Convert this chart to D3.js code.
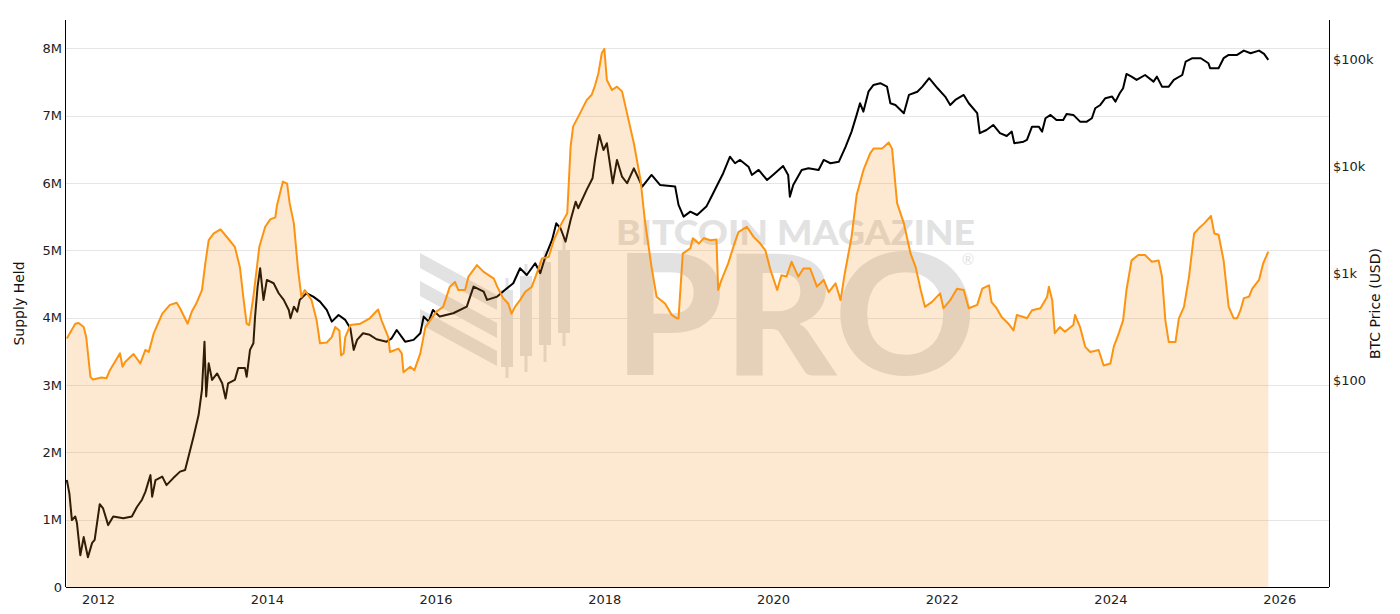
<!DOCTYPE html>
<html>
<head>
<meta charset="utf-8">
<script src="https://cdn.jsdelivr.net/npm/d3@7"></script>
<style>
  html, body { margin: 0; padding: 0; background: #fff; }
  svg { display: block; }
</style>
</head>
<body>
<svg id="chart" width="1400" height="614"></svg>
<script>
// ---- Data (dates as decimal years) ----
const supplyDates = [2011.63,2011.73,2011.77,2011.83,2011.86,2011.91,2011.94,2012.04,2012.10,2012.14,2012.26,2012.29,2012.32,2012.42,2012.50,2012.56,2012.60,2012.66,2012.76,2012.85,2012.93,2012.97,2013.06,2013.11,2013.17,2013.23,2013.27,2013.31,2013.37,2013.45,2013.53,2013.62,2013.68,2013.72,2013.76,2013.79,2013.84,2013.91,2013.98,2014.04,2014.10,2014.12,2014.19,2014.24,2014.27,2014.32,2014.37,2014.41,2014.45,2014.53,2014.59,2014.63,2014.71,2014.77,2014.81,2014.86,2014.88,2014.91,2014.93,2014.99,2015.11,2015.22,2015.32,2015.36,2015.44,2015.46,2015.56,2015.60,2015.62,2015.70,2015.75,2015.82,2015.88,2016.01,2016.09,2016.17,2016.23,2016.27,2016.35,2016.39,2016.49,2016.57,2016.69,2016.73,2016.80,2016.86,2016.90,2016.94,2017.00,2017.06,2017.14,2017.20,2017.26,2017.34,2017.40,2017.48,2017.56,2017.60,2017.63,2017.71,2017.79,2017.85,2017.89,2017.93,2017.97,2018.00,2018.03,2018.09,2018.15,2018.21,2018.27,2018.35,2018.43,2018.48,2018.56,2018.62,2018.72,2018.80,2018.86,2018.88,2018.93,2019.02,2019.05,2019.12,2019.18,2019.26,2019.33,2019.35,2019.39,2019.47,2019.53,2019.59,2019.69,2019.77,2019.85,2019.91,2019.97,2020.05,2020.10,2020.16,2020.22,2020.30,2020.36,2020.44,2020.52,2020.60,2020.66,2020.74,2020.80,2020.85,2020.93,2020.99,2021.07,2021.15,2021.19,2021.29,2021.37,2021.41,2021.47,2021.55,2021.63,2021.69,2021.75,2021.80,2021.88,2021.98,2022.02,2022.10,2022.18,2022.26,2022.32,2022.42,2022.48,2022.56,2022.59,2022.65,2022.71,2022.79,2022.85,2022.89,2022.97,2023.01,2023.07,2023.17,2023.25,2023.27,2023.31,2023.34,2023.40,2023.46,2023.56,2023.58,2023.64,2023.70,2023.76,2023.86,2023.92,2024.00,2024.04,2024.10,2024.15,2024.19,2024.25,2024.33,2024.41,2024.49,2024.57,2024.61,2024.65,2024.69,2024.77,2024.81,2024.87,2024.93,2024.99,2025.05,2025.11,2025.19,2025.23,2025.28,2025.34,2025.40,2025.46,2025.50,2025.54,2025.58,2025.64,2025.68,2025.76,2025.81,2025.87];
const supplyHeldM = [3.69,3.91,3.92,3.86,3.71,3.12,3.08,3.11,3.10,3.22,3.47,3.27,3.34,3.46,3.32,3.52,3.49,3.77,4.06,4.19,4.22,4.14,3.91,4.09,4.23,4.41,4.81,5.15,5.25,5.31,5.19,5.05,4.75,4.31,3.91,3.89,4.31,5.05,5.35,5.46,5.49,5.67,6.02,5.99,5.70,5.40,4.71,4.31,4.41,4.26,3.96,3.62,3.63,3.71,3.86,3.81,3.44,3.47,3.71,3.89,3.91,3.99,4.12,3.96,3.71,3.49,3.54,3.47,3.19,3.27,3.22,3.47,3.86,4.09,4.16,4.46,4.53,4.41,4.41,4.61,4.78,4.68,4.58,4.46,4.29,4.21,4.06,4.16,4.26,4.38,4.46,4.66,4.88,4.90,5.15,5.37,5.55,6.54,6.84,7.03,7.23,7.31,7.45,7.63,7.93,7.99,7.53,7.38,7.43,7.36,7.03,6.59,6.04,5.45,4.75,4.31,4.21,4.04,3.99,3.99,4.95,5.03,5.18,5.10,5.18,5.15,5.16,4.41,4.56,4.81,5.05,5.27,5.35,5.20,5.10,5.00,4.71,4.41,4.63,4.61,4.83,4.61,4.73,4.73,4.46,4.56,4.38,4.51,4.26,4.66,5.20,5.82,6.19,6.44,6.51,6.51,6.60,6.51,5.70,5.40,4.95,4.75,4.41,4.16,4.23,4.36,4.14,4.26,4.43,4.41,4.14,4.19,4.43,4.48,4.23,4.14,4.01,3.91,3.81,4.04,4.01,3.99,4.11,4.14,4.31,4.46,4.26,3.77,3.86,3.79,3.89,4.04,3.86,3.57,3.49,3.52,3.29,3.32,3.57,3.77,3.96,4.41,4.85,4.93,4.93,4.83,4.85,4.61,3.96,3.64,3.64,3.99,4.16,4.61,5.25,5.33,5.40,5.51,5.25,5.23,4.85,4.16,3.99,3.99,4.11,4.29,4.31,4.43,4.56,4.81,4.98];

const priceDates = [2011.63,2011.66,2011.69,2011.73,2011.75,2011.79,2011.83,2011.88,2011.93,2011.96,2012.02,2012.06,2012.12,2012.18,2012.30,2012.40,2012.46,2012.52,2012.56,2012.62,2012.64,2012.68,2012.76,2012.81,2012.89,2012.97,2013.03,2013.07,2013.13,2013.19,2013.23,2013.26,2013.28,2013.31,2013.35,2013.41,2013.47,2013.51,2013.54,2013.62,2013.66,2013.74,2013.76,2013.80,2013.84,2013.86,2013.89,2013.92,2013.96,2014.00,2014.08,2014.14,2014.20,2014.26,2014.28,2014.32,2014.36,2014.39,2014.47,2014.55,2014.63,2014.71,2014.77,2014.85,2014.93,2014.99,2015.03,2015.07,2015.14,2015.22,2015.30,2015.42,2015.48,2015.54,2015.64,2015.74,2015.82,2015.86,2015.92,2015.97,2016.05,2016.21,2016.37,2016.45,2016.57,2016.61,2016.73,2016.82,2016.92,2017.00,2017.08,2017.18,2017.24,2017.30,2017.38,2017.43,2017.48,2017.54,2017.60,2017.66,2017.69,2017.79,2017.86,2017.89,2017.94,2017.99,2018.03,2018.10,2018.15,2018.21,2018.27,2018.35,2018.45,2018.56,2018.66,2018.84,2018.88,2018.94,2019.02,2019.10,2019.21,2019.27,2019.35,2019.41,2019.49,2019.55,2019.61,2019.71,2019.75,2019.83,2019.93,2020.00,2020.12,2020.18,2020.20,2020.24,2020.34,2020.42,2020.54,2020.60,2020.68,2020.78,2020.86,2020.93,2020.99,2021.03,2021.07,2021.13,2021.19,2021.27,2021.35,2021.39,2021.45,2021.55,2021.61,2021.71,2021.77,2021.85,2021.95,2022.04,2022.10,2022.16,2022.26,2022.32,2022.42,2022.45,2022.53,2022.61,2022.69,2022.77,2022.83,2022.86,2022.97,2023.01,2023.07,2023.15,2023.19,2023.23,2023.29,2023.36,2023.44,2023.48,2023.56,2023.64,2023.72,2023.78,2023.82,2023.88,2023.94,2024.02,2024.06,2024.11,2024.15,2024.19,2024.25,2024.31,2024.41,2024.51,2024.55,2024.61,2024.69,2024.75,2024.85,2024.89,2024.97,2025.07,2025.16,2025.18,2025.28,2025.34,2025.40,2025.50,2025.58,2025.66,2025.76,2025.82,2025.87];
const btcPriceUSD = [11.6,8.7,4.9,5.3,4.6,2.3,3.4,2.2,3.0,3.2,6.9,6.3,4.4,5.3,5.1,5.3,6.5,7.6,9.0,12.9,8.1,11.6,12.5,10.4,12.1,13.9,14.4,19.2,29.5,47,81,228,70,143,100,115,93,67,93,100,129,129,107,191,220,391,745,1107,560,861,801,646,560,451,377,484,434,560,646,601,539,451,351,405,364,304,191,237,273,264,240,228,245,293,228,237,273,391,351,451,391,420,484,745,668,560,601,693,801,1107,957,1233,994,1419,2033,2911,2616,1963,3126,4634,4027,5970,7670,11380,19500,14100,16300,6890,11380,7940,6890,9500,6410,8240,6640,6410,4330,3360,3740,3480,4170,5160,6890,8550,12200,10600,11380,9840,8240,9180,7390,8240,10000,8240,5160,6640,9180,9500,9180,11380,10600,10960,15140,20940,29990,38550,32210,49400,57150,59300,55080,38550,37150,31120,46100,49400,55080,66100,53200,44500,37150,41400,46100,38550,31120,20240,21680,24150,20240,19050,20940,16300,16870,17500,23280,23280,20940,27900,29990,26900,26900,30600,29990,25950,25950,27900,34600,37150,42950,44500,39900,47750,53200,72400,68400,63700,70800,61400,68400,55080,55080,63700,70800,94400,101600,101600,91200,81800,81800,101600,109000,109000,119700,113000,119700,111400,98000];

const yearTicks = [2012, 2014, 2016, 2018, 2020, 2022, 2024, 2026];
const supplyTicks = [0, 1e6, 2e6, 3e6, 4e6, 5e6, 6e6, 7e6, 8e6];
const supplyTickLabels = ["0", "1M", "2M", "3M", "4M", "5M", "6M", "7M", "8M"];
const priceTicks = [100, 1000, 10000, 100000];
const priceTickLabels = ["$100", "$1k", "$10k", "$100k"];

// ---- helpers ----
function decYear(t) {
  const y = Math.floor(t);
  const s = Date.UTC(y, 0, 1), e = Date.UTC(y + 1, 0, 1);
  return new Date(s + (t - y) * (e - s));
}

const supply = supplyDates.map((d, i) => ({ date: decYear(d), v: supplyHeldM[i] * 1e6 }));
const price = priceDates.map((d, i) => ({ date: decYear(d), v: btcPriceUSD[i] }));

// ---- layout ----
const L = 66, R = 1329, T = 20, B = 587;
const svg = d3.select("#chart");
const FONT = "'DejaVu Sans', Verdana, sans-serif";

const x = d3.scaleUtc().domain([decYear(2011.62), decYear(2026.59)]).range([L, R]);
const yL = d3.scaleLinear().domain([0, 8.42e6]).range([B, T]);
const yR = d3.scaleLog().domain([Math.pow(10, 0.065), Math.pow(10, 5.364)]).range([B, T]);

// gridlines
svg.append("g").selectAll("line").data(supplyTicks.slice(1)).join("line")
  .attr("x1", L).attr("x2", R)
  .attr("y1", d => Math.round(yL(d)) + 0.5).attr("y2", d => Math.round(yL(d)) + 0.5)
  .attr("stroke", "#e6e6e6").attr("stroke-width", 1);

// watermark (under data)
const wm = svg.append("g").attr("fill", "#e2e2e2");
[0, 1, 2].forEach(i => {
  const y0 = 253 + 28 * i;
  wm.append("polygon").attr("points",
    `420,${y0} 497,${y0 + 42} 497,${y0 + 57} 420,${y0 + 15}`);
});
const bars = [[501, 290, 367, 378], [520, 276, 356, 372], [539, 262, 345, 362], [558, 250, 333, 346]];
bars.forEach(b => {
  wm.append("rect").attr("x", b[0]).attr("y", b[1]).attr("width", 12).attr("height", b[2] - b[1]);
  wm.append("rect").attr("x", b[0] + 4.5).attr("y", b[1] - 12).attr("width", 3).attr("height", b[3] - b[1] + 12);
});
wm.append("text").attr("x", 616).attr("y", 244.5)
  .attr("font-family", "Lato, 'Open Sans', sans-serif").attr("font-weight", 900)
  .attr("font-size", 35).attr("textLength", 359).attr("lengthAdjust", "spacingAndGlyphs")
  .text("BITCOIN MAGAZINE");
wm.append("text").attr("x", 614).attr("y", 375)
  .attr("font-family", "Lato, 'Open Sans', sans-serif").attr("font-weight", 900)
  .attr("font-size", 168).attr("textLength", 362).attr("lengthAdjust", "spacingAndGlyphs")
  .text("PRO");
wm.append("text").attr("x", 968).attr("y", 265).attr("text-anchor", "middle")
  .attr("font-family", "Lato, sans-serif").attr("font-size", 15).text("®");

// price line (under area fill)
svg.append("path").datum(price)
  .attr("fill", "none").attr("stroke", "#000").attr("stroke-width", 2)
  .attr("stroke-linejoin", "round")
  .attr("d", d3.line().x(d => x(d.date)).y(d => yR(d.v)));

// supply area
svg.append("path").datum(supply)
  .attr("fill", "rgba(247,147,26,0.2)")
  .attr("d", d3.area().x(d => x(d.date)).y0(yL(0)).y1(d => yL(d.v)));
svg.append("path").datum(supply)
  .attr("fill", "none").attr("stroke", "#fc9412").attr("stroke-width", 2)
  .attr("stroke-linejoin", "round")
  .attr("d", d3.line().x(d => x(d.date)).y(d => yL(d.v)));

// axes
const xAxis = d3.axisBottom(x).tickValues(yearTicks.map(y => decYear(y)))
  .tickFormat(d3.utcFormat("%Y")).tickSize(0).tickPadding(8);
const gx = svg.append("g").attr("transform", `translate(0,${B})`).call(xAxis);
gx.select(".domain").attr("stroke", "#000").attr("d", `M${L},0.5H${R}`);

const yAxisL = d3.axisLeft(yL).tickValues(supplyTicks)
  .tickFormat((d, i) => supplyTickLabels[i]).tickSize(0).tickPadding(4);
const gyl = svg.append("g").attr("transform", `translate(${L},0)`).call(yAxisL);
gyl.select(".domain").attr("stroke", "#000").attr("d", `M-0.5,${T}V${B}`);

const yAxisR = d3.axisRight(yR).tickValues(priceTicks)
  .tickFormat((d, i) => priceTickLabels[i]).tickSize(0).tickPadding(4);
const gyr = svg.append("g").attr("transform", `translate(${R},0)`).call(yAxisR);
gyr.select(".domain").attr("stroke", "#000").attr("d", `M0.5,${T}V${B}`);

svg.selectAll(".tick text").attr("font-family", FONT).attr("font-size", 13).attr("fill", "#222");

// axis titles
svg.append("text").attr("transform", `translate(24,${(T + B) / 2}) rotate(-90)`)
  .attr("text-anchor", "middle").attr("font-family", FONT).attr("font-size", 14)
  .attr("fill", "#111").text("Supply Held");
svg.append("text").attr("transform", `translate(1380,${(T + B) / 2}) rotate(-90)`)
  .attr("text-anchor", "middle").attr("font-family", FONT).attr("font-size", 14)
  .attr("fill", "#111").text("BTC Price (USD)");
</script>
</body>
</html>
